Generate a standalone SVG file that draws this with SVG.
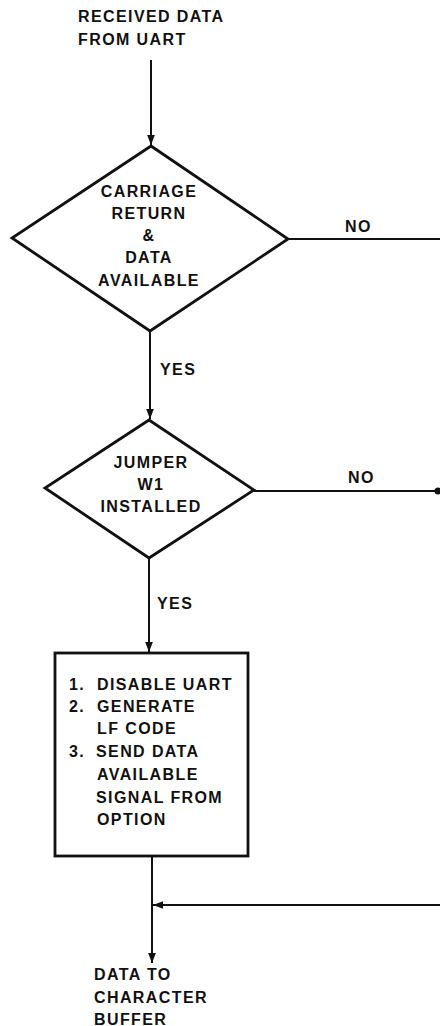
<svg xmlns="http://www.w3.org/2000/svg" width="440" height="1026" viewBox="0 0 440 1026">
<style>
text{font-family:"Liberation Sans",Arial,sans-serif;font-weight:bold;font-size:16px;letter-spacing:1.4px;fill:#111}
.c{text-anchor:middle}
.shape{fill:#fff;stroke:#111;stroke-width:2.8}
.conn{fill:none;stroke:#111;stroke-width:2}
</style>
<defs>
<marker id="ah" markerWidth="10" markerHeight="14" refX="13" refY="5" viewBox="0 0 13 10" orient="auto" markerUnits="userSpaceOnUse">
<path d="M0,0 L13,5 L0,10 Z" fill="#111"/>
</marker>
</defs>
<rect width="440" height="1026" fill="#fff"/>
<g id="connectors">
<line class="conn" x1="151" y1="60" x2="151" y2="145" marker-end="url(#ah)"/>
<line class="conn" x1="288" y1="239" x2="440" y2="239"/>
<line class="conn" x1="150" y1="331" x2="150" y2="419" marker-end="url(#ah)"/>
<line class="conn" x1="254" y1="491" x2="438" y2="491"/>
<circle cx="438" cy="491" r="3.5" fill="#111"/>
<line class="conn" x1="149" y1="558" x2="149" y2="652" marker-end="url(#ah)"/>
<line class="conn" x1="152" y1="856" x2="152" y2="963" marker-end="url(#ah)"/>
<line class="conn" x1="440" y1="905" x2="153" y2="905" marker-end="url(#ah)"/>
<text x="345" y="232">NO</text>
<text x="160" y="375">YES</text>
<text x="348" y="483">NO</text>
<text x="157" y="609">YES</text>
</g>
<g id="start">
<text x="78" y="22">RECEIVED DATA</text>
<text x="78" y="45">FROM UART</text>
</g>
<g id="decision1">
<polygon class="shape" points="151,146 288,239 150,331 12,238"/>
<text class="c" x="149" y="197">CARRIAGE</text>
<text class="c" x="149" y="219">RETURN</text>
<text class="c" x="149" y="241">&amp;</text>
<text class="c" x="149" y="263">DATA</text>
<text class="c" x="149" y="286">AVAILABLE</text>
</g>
<g id="decision2">
<polygon class="shape" points="149,420 254,490 149,558 45,488"/>
<text class="c" x="151" y="468">JUMPER</text>
<text class="c" x="151" y="490">W1</text>
<text class="c" x="151" y="512">INSTALLED</text>
</g>
<g id="process">
<rect class="shape" x="55" y="653" width="193" height="203"/>
<text x="69" y="690">1.</text><text x="97" y="690">DISABLE UART</text>
<text x="69" y="712">2.</text><text x="97" y="712">GENERATE</text>
<text x="97" y="734">LF CODE</text>
<text x="69" y="757">3.</text><text x="96" y="757">SEND DATA</text>
<text x="97" y="780">AVAILABLE</text>
<text x="96" y="803">SIGNAL FROM</text>
<text x="97" y="825">OPTION</text>
</g>
<g id="end">
<text x="94" y="980">DATA TO</text>
<text x="94" y="1003">CHARACTER</text>
<text x="94" y="1025">BUFFER</text>
</g>
</svg>
